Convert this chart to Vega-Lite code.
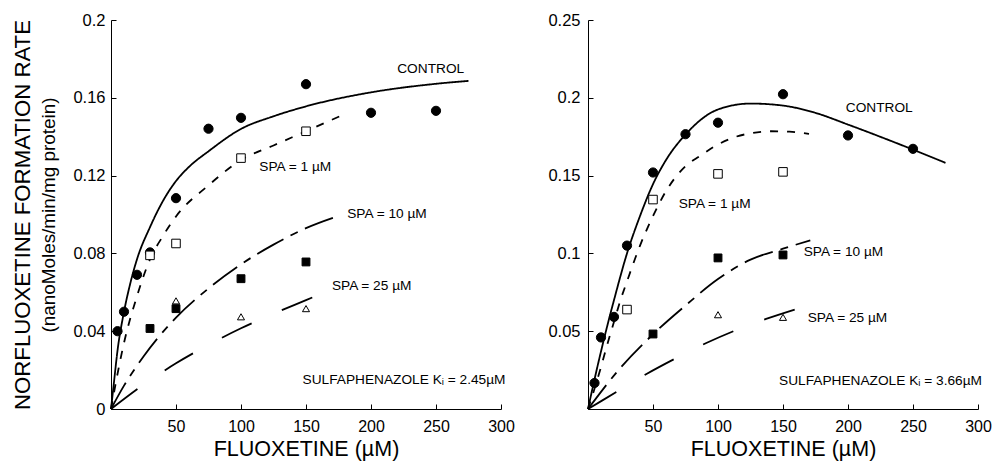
{
  "$schema": "https://vega.github.io/schema/vega-lite/v6.json",
  "padding": {"left": 11, "top": 12, "right": 0, "bottom": 5},
  "background": "white",
  "config": {
    "font": "Liberation Sans",
    "view": {"stroke": null},
    "axis": {
      "domainColor": "black", "domainWidth": 1, "tickColor": "black", "tickWidth": 1,
      "labelColor": "black", "titleColor": "black", "labelFontSize": 16, "titleFontSize": 21.5,
      "titleFontWeight": "normal", "grid": false, "labelFont": "Liberation Sans", "titleFont": "Liberation Sans",
      "labelFlush": false
    },
    "text": {"font": "Liberation Sans"}
  },
  "datasets": {
    "curvesL": [
      {"series": "CONTROL", "x": 0, "y": 0}, {"series": "CONTROL", "x": 2, "y": 0.012}, {"series": "CONTROL", "x": 5, "y": 0.03},
      {"series": "CONTROL", "x": 10, "y": 0.05}, {"series": "CONTROL", "x": 15, "y": 0.065}, {"series": "CONTROL", "x": 20, "y": 0.077},
      {"series": "CONTROL", "x": 30, "y": 0.0935}, {"series": "CONTROL", "x": 40, "y": 0.107}, {"series": "CONTROL", "x": 50, "y": 0.1172},
      {"series": "CONTROL", "x": 60, "y": 0.1245},
      {"series": "CONTROL", "x": 75, "y": 0.1325}, {"series": "CONTROL", "x": 100, "y": 0.144}, {"series": "CONTROL", "x": 125, "y": 0.1505},
      {"series": "CONTROL", "x": 150, "y": 0.1556}, {"series": "CONTROL", "x": 200, "y": 0.1628}, {"series": "CONTROL", "x": 250, "y": 0.1672},
      {"series": "CONTROL", "x": 275, "y": 0.1687},
      {"series": "SPA1", "x": 0, "y": 0}, {"series": "SPA1", "x": 5, "y": 0.018}, {"series": "SPA1", "x": 10, "y": 0.034},
      {"series": "SPA1", "x": 20, "y": 0.058}, {"series": "SPA1", "x": 30, "y": 0.077}, {"series": "SPA1", "x": 40, "y": 0.089},
      {"series": "SPA1", "x": 50, "y": 0.099}, {"series": "SPA1", "x": 75, "y": 0.115}, {"series": "SPA1", "x": 100, "y": 0.128},
      {"series": "SPA1", "x": 125, "y": 0.1355}, {"series": "SPA1", "x": 150, "y": 0.1428}, {"series": "SPA1", "x": 176, "y": 0.1505},
      {"series": "SPA10", "x": 0, "y": 0}, {"series": "SPA10", "x": 10, "y": 0.012}, {"series": "SPA10", "x": 25, "y": 0.027},
      {"series": "SPA10", "x": 50, "y": 0.047}, {"series": "SPA10", "x": 75, "y": 0.062}, {"series": "SPA10", "x": 100, "y": 0.0744},
      {"series": "SPA10", "x": 125, "y": 0.0845}, {"series": "SPA10", "x": 150, "y": 0.093}, {"series": "SPA10", "x": 176, "y": 0.0995},
      {"series": "SPA25", "x": 0, "y": 0}, {"series": "SPA25", "x": 25, "y": 0.0125}, {"series": "SPA25", "x": 50, "y": 0.0235},
      {"series": "SPA25", "x": 75, "y": 0.033}, {"series": "SPA25", "x": 100, "y": 0.0415}, {"series": "SPA25", "x": 125, "y": 0.049},
      {"series": "SPA25", "x": 150, "y": 0.056}, {"series": "SPA25", "x": 160, "y": 0.0588}
    ],
    "pointsL": [
      {"series": "CONTROL", "x": 5, "y": 0.04}, {"series": "CONTROL", "x": 10, "y": 0.05}, {"series": "CONTROL", "x": 20, "y": 0.069},
      {"series": "CONTROL", "x": 30, "y": 0.0805}, {"series": "CONTROL", "x": 50, "y": 0.1084}, {"series": "CONTROL", "x": 75, "y": 0.1441},
      {"series": "CONTROL", "x": 100, "y": 0.1497}, {"series": "CONTROL", "x": 150, "y": 0.167}, {"series": "CONTROL", "x": 200, "y": 0.1523},
      {"series": "CONTROL", "x": 250, "y": 0.1533},
      {"series": "SPA1", "x": 30, "y": 0.079}, {"series": "SPA1", "x": 50, "y": 0.0851}, {"series": "SPA1", "x": 100, "y": 0.129},
      {"series": "SPA1", "x": 150, "y": 0.1428},
      {"series": "SPA10", "x": 30, "y": 0.0414}, {"series": "SPA10", "x": 50, "y": 0.0516}, {"series": "SPA10", "x": 100, "y": 0.067},
      {"series": "SPA10", "x": 150, "y": 0.0756},
      {"series": "SPA25", "x": 50, "y": 0.0556}, {"series": "SPA25", "x": 100, "y": 0.0474}, {"series": "SPA25", "x": 150, "y": 0.0516}
    ],
    "labelsL": [
      {"label": "CONTROL", "x": 245.9, "y": 0.1747},
      {"label": "SPA = 1 µM", "x": 141.7, "y": 0.1245},
      {"label": "SPA = 10 µM", "x": 212.3, "y": 0.1004},
      {"label": "SPA = 25 µM", "x": 200.5, "y": 0.0633},
      {"label": "SULFAPHENAZOLE  Kᵢ = 2.45µM", "x": 225.4, "y": 0.0149}
    ],
    "curvesR": [
      {"series": "CONTROL", "x": 0, "y": 0}, {"series": "CONTROL", "x": 5, "y": 0.019}, {"series": "CONTROL", "x": 10, "y": 0.037},
      {"series": "CONTROL", "x": 15, "y": 0.054}, {"series": "CONTROL", "x": 20, "y": 0.07}, {"series": "CONTROL", "x": 30, "y": 0.1},
      {"series": "CONTROL", "x": 40, "y": 0.124}, {"series": "CONTROL", "x": 50, "y": 0.1445}, {"series": "CONTROL", "x": 60, "y": 0.16},
      {"series": "CONTROL", "x": 75, "y": 0.1764}, {"series": "CONTROL", "x": 100, "y": 0.1925}, {"series": "CONTROL", "x": 125, "y": 0.1963},
      {"series": "CONTROL", "x": 150, "y": 0.195}, {"series": "CONTROL", "x": 175, "y": 0.1903}, {"series": "CONTROL", "x": 200, "y": 0.1828},
      {"series": "CONTROL", "x": 225, "y": 0.1749}, {"series": "CONTROL", "x": 250, "y": 0.1667}, {"series": "CONTROL", "x": 275, "y": 0.1582},
      {"series": "SPA1", "x": 0, "y": 0}, {"series": "SPA1", "x": 5, "y": 0.013}, {"series": "SPA1", "x": 10, "y": 0.027},
      {"series": "SPA1", "x": 15, "y": 0.042}, {"series": "SPA1", "x": 20, "y": 0.056}, {"series": "SPA1", "x": 25, "y": 0.07},
      {"series": "SPA1", "x": 30, "y": 0.082}, {"series": "SPA1", "x": 40, "y": 0.105}, {"series": "SPA1", "x": 50, "y": 0.124},
      {"series": "SPA1", "x": 60, "y": 0.14}, {"series": "SPA1", "x": 75, "y": 0.156}, {"series": "SPA1", "x": 86, "y": 0.1625},
      {"series": "SPA1", "x": 100, "y": 0.17}, {"series": "SPA1", "x": 112, "y": 0.1745}, {"series": "SPA1", "x": 125, "y": 0.1772},
      {"series": "SPA1", "x": 141, "y": 0.1785}, {"series": "SPA1", "x": 155, "y": 0.1782}, {"series": "SPA1", "x": 170, "y": 0.1768},
      {"series": "SPA10", "x": 0, "y": 0}, {"series": "SPA10", "x": 25, "y": 0.0265}, {"series": "SPA10", "x": 50, "y": 0.048},
      {"series": "SPA10", "x": 75, "y": 0.0665}, {"series": "SPA10", "x": 100, "y": 0.0835}, {"series": "SPA10", "x": 125, "y": 0.096},
      {"series": "SPA10", "x": 150, "y": 0.103}, {"series": "SPA10", "x": 171, "y": 0.1084},
      {"series": "SPA25", "x": 0, "y": 0}, {"series": "SPA25", "x": 22, "y": 0.011}, {"series": "SPA25", "x": 45, "y": 0.0225},
      {"series": "SPA25", "x": 68, "y": 0.0328}, {"series": "SPA25", "x": 91, "y": 0.0424}, {"series": "SPA25", "x": 113, "y": 0.0504},
      {"series": "SPA25", "x": 137, "y": 0.0579}, {"series": "SPA25", "x": 159, "y": 0.0639}
    ],
    "pointsR": [
      {"series": "CONTROL", "x": 5, "y": 0.0167}, {"series": "CONTROL", "x": 10, "y": 0.046}, {"series": "CONTROL", "x": 20, "y": 0.0592},
      {"series": "CONTROL", "x": 30, "y": 0.105}, {"series": "CONTROL", "x": 50, "y": 0.152}, {"series": "CONTROL", "x": 75, "y": 0.1766},
      {"series": "CONTROL", "x": 100, "y": 0.184}, {"series": "CONTROL", "x": 150, "y": 0.2023}, {"series": "CONTROL", "x": 200, "y": 0.1758},
      {"series": "CONTROL", "x": 250, "y": 0.1672},
      {"series": "SPA1", "x": 30, "y": 0.0639}, {"series": "SPA1", "x": 50, "y": 0.1346}, {"series": "SPA1", "x": 100, "y": 0.1511},
      {"series": "SPA1", "x": 150, "y": 0.1524},
      {"series": "SPA10", "x": 50, "y": 0.0482}, {"series": "SPA10", "x": 100, "y": 0.0971}, {"series": "SPA10", "x": 150, "y": 0.099},
      {"series": "SPA25", "x": 100, "y": 0.0606}, {"series": "SPA25", "x": 150, "y": 0.0589}
    ],
    "labelsR": [
      {"label": "CONTROL", "x": 224, "y": 0.1936},
      {"label": "SPA = 1 µM", "x": 97.4, "y": 0.1318},
      {"label": "SPA = 10 µM", "x": 196.5, "y": 0.101},
      {"label": "SPA = 25 µM", "x": 199.6, "y": 0.0585},
      {"label": "SULFAPHENAZOLE  Kᵢ = 3.66µM", "x": 225, "y": 0.0182}
    ]
  },
  "hconcat": [
    {
      "width": 390, "height": 389,
      "encoding": {
        "x": {"field": "x", "type": "quantitative", "scale": {"domain": [0, 300], "nice": false},
          "axis": {"values": [50, 100, 150, 200, 250, 300], "tickSize": -5, "labelPadding": 14, "title": "FLUOXETINE (µM)", "titlePadding": 4}}
      },
      "layer": [
        {
          "data": {"name": "curvesL"},
          "mark": {"type": "line", "color": "black", "strokeWidth": 1.8, "interpolate": "monotone"},
          "encoding": {
            "y": {"field": "y", "type": "quantitative", "scale": {"domain": [0, 0.2], "nice": false},
              "axis": {"values": [0, 0.04, 0.08, 0.12, 0.16, 0.2], "format": "~g", "tickSize": -5, "labelPadding": 11, "labelFontSize": 16.5, "title": "NORFLUOXETINE FORMATION RATE", "titleFontSize": 22.2, "titlePadding": 38}},
            "strokeDash": {"field": "series", "type": "nominal", "legend": null,
              "scale": {"domain": ["CONTROL", "SPA1", "SPA10", "SPA25"], "range": [[1, 0], [8, 9], [30, 8, 8, 8], [33, 33]]}}
          }
        },
        {
          "data": {"name": "pointsL"},
          "mark": {"type": "point", "stroke": "black", "strokeWidth": 1, "opacity": 1},
          "encoding": {
            "y": {"field": "y", "type": "quantitative", "scale": {"domain": [0, 0.2], "nice": false},
              "axis": {"orient": "left", "labels": false, "ticks": false, "domain": false, "title": "(nanoMoles/min/mg protein)", "titleFontSize": 18.9, "titlePadding": 53}},
            "shape": {"field": "series", "type": "nominal", "legend": null,
              "scale": {"domain": ["CONTROL", "SPA1", "SPA10", "SPA25"], "range": ["circle", "square", "square", "triangle-up"]}},
            "fill": {"field": "series", "type": "nominal", "legend": null,
              "scale": {"domain": ["CONTROL", "SPA1", "SPA10", "SPA25"], "range": ["black", "white", "black", "white"]}},
            "size": {"field": "series", "type": "nominal", "legend": null,
              "scale": {"domain": ["CONTROL", "SPA1", "SPA10", "SPA25"], "range": [85, 50, 60, 45]}}
          }
        },
        {
          "data": {"name": "labelsL"},
          "mark": {"type": "text", "fontSize": 13.7, "color": "black", "align": "center", "baseline": "middle"},
          "encoding": {
            "y": {"field": "y", "type": "quantitative", "scale": {"domain": [0, 0.2], "nice": false}, "axis": null},
            "text": {"field": "label"}
          }
        }
      ],
      "resolve": {"axis": {"y": "independent"}}
    },
    {
      "width": 390, "height": 389,
      "encoding": {
        "x": {"field": "x", "type": "quantitative", "scale": {"domain": [0, 300], "nice": false},
          "axis": {"values": [50, 100, 150, 200, 250, 300], "tickSize": -5, "labelPadding": 14, "title": "FLUOXETINE (µM)", "titlePadding": 4}}
      },
      "layer": [
        {
          "data": {"name": "curvesR"},
          "mark": {"type": "line", "color": "black", "strokeWidth": 1.8, "interpolate": "monotone"},
          "encoding": {
            "y": {"field": "y", "type": "quantitative", "scale": {"domain": [0, 0.25], "nice": false},
              "axis": {"values": [0.05, 0.1, 0.15, 0.2, 0.25], "format": "~g", "tickSize": -5, "labelPadding": 13, "labelFontSize": 16.5, "title": null}},
            "strokeDash": {"field": "series", "type": "nominal", "legend": null,
              "scale": {"domain": ["CONTROL", "SPA1", "SPA10", "SPA25"], "range": [[1, 0], [8, 9], [30, 8, 8, 8], [33, 33]]}}
          }
        },
        {
          "data": {"name": "pointsR"},
          "mark": {"type": "point", "stroke": "black", "strokeWidth": 1, "opacity": 1},
          "encoding": {
            "y": {"field": "y", "type": "quantitative"},
            "shape": {"field": "series", "type": "nominal", "legend": null,
              "scale": {"domain": ["CONTROL", "SPA1", "SPA10", "SPA25"], "range": ["circle", "square", "square", "triangle-up"]}},
            "fill": {"field": "series", "type": "nominal", "legend": null,
              "scale": {"domain": ["CONTROL", "SPA1", "SPA10", "SPA25"], "range": ["black", "white", "black", "white"]}},
            "size": {"field": "series", "type": "nominal", "legend": null,
              "scale": {"domain": ["CONTROL", "SPA1", "SPA10", "SPA25"], "range": [85, 50, 60, 45]}}
          }
        },
        {
          "data": {"name": "labelsR"},
          "mark": {"type": "text", "fontSize": 13.7, "color": "black", "align": "center", "baseline": "middle"},
          "encoding": {
            "y": {"field": "y", "type": "quantitative"},
            "text": {"field": "label"}
          }
        }
      ]
    }
  ],
  "spacing": 32,
  "resolve": {"scale": {"y": "independent"}}
}
